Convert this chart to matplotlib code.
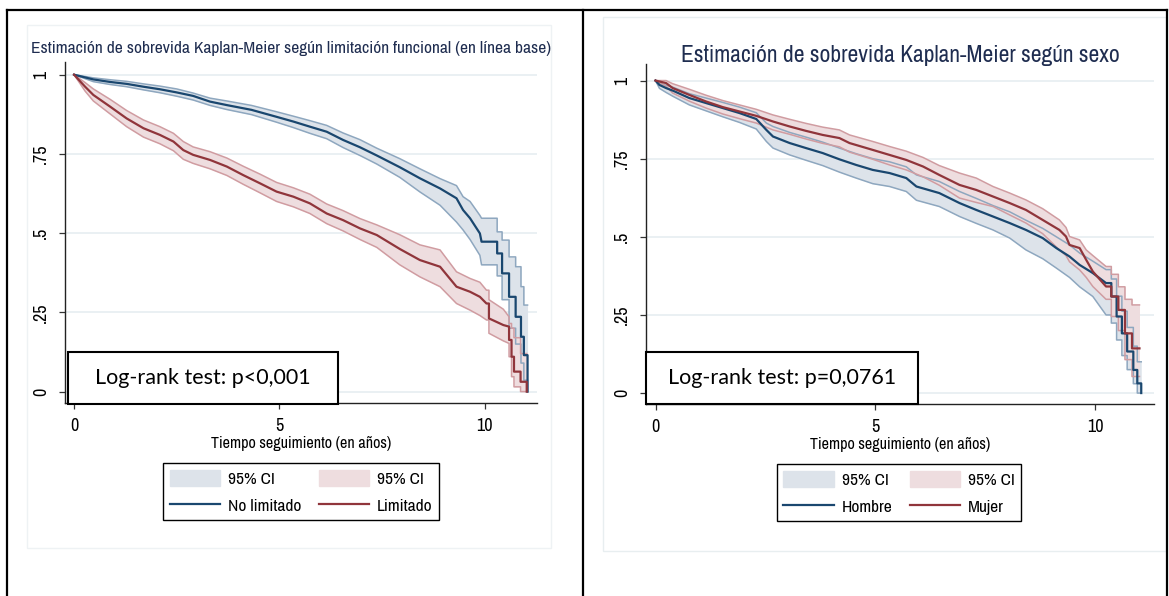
import numpy as np
import matplotlib.pyplot as plt
from matplotlib.patches import Rectangle, Patch
from matplotlib.lines import Line2D

W, H = 1169, 596

# Left panel: survival by functional limitation (No limitado / Limitado)
t_nl = [0, .47, .88, 1.28, 1.69, 2.09, 2.50, 2.90, 3.31, 3.72, 4.32, 4.93, 5.34, 5.74, 6.15, 6.55,
        6.96, 7.37, 7.93, 8.42, 8.91, 9.31, 9.47, 9.64, 9.88, 9.92,
        10.30, 10.30, 10.42, 10.42, 10.59, 10.59, 10.75, 10.75, 10.88, 10.88, 10.95, 10.95, 11.04, 11.04]
s_nl = [1, .985, .977, .971, .962, .954, .944, .933, .915, .904, .889, .867, .852, .836, .820, .794,
        .771, .745, .708, .673, .641, .610, .573, .547, .499, .473,
        .473, .436, .436, .373, .373, .299, .299, .236, .236, .173, .173, .115, .115, 0]
hi_nl = [1, .990, .984, .979, .971, .964, .955, .942, .926, .917, .903, .883, .869, .855, .840, .816,
         .795, .768, .735, .703, .672, .650, .615, .600, .556, .547,
         .547, .504, .504, .478, .478, .425, .425, .394, .394, .331, .331, .273, .273, .273]
lo_nl = [1, .978, .969, .962, .952, .943, .932, .920, .903, .890, .874, .850, .833, .815, .798, .770,
         .745, .718, .676, .630, .588, .535, .510, .480, .430, .400,
         .400, .365, .365, .290, .290, .200, .200, .150, .150, .090, .090, .036, .036, 0]

t_lim = [0, .27, .47, .88, 1.28, 1.69, 2.09, 2.42, 2.66, 2.90, 3.31, 3.72, 4.12, 4.53, 4.93, 5.34,
         5.74, 6.15, 6.55, 6.96, 7.37, 7.93, 8.42, 8.91, 9.31, 9.64, 9.88, 10.04,
         10.10, 10.10, 10.45, 10.59, 10.59, 10.65, 10.65, 10.71, 10.71, 10.87, 10.87, 11.02, 11.02]
s_lim = [1, .962, .936, .899, .862, .831, .810, .789, .762, .747, .731, .710, .683, .657, .631, .615,
         .594, .562, .541, .515, .494, .450, .415, .394, .331, .315, .299, .278,
         .278, .231, .210, .205, .163, .163, .110, .110, .063, .063, .031, .031, 0]
hi_lim = [1, .975, .955, .922, .887, .857, .836, .815, .789, .772, .757, .737, .711, .686, .660, .643,
          .623, .592, .571, .546, .526, .495, .463, .447, .378, .357, .345, .320,
          .320, .290, .260, .236, .215, .215, .200, .200, .170, .170, .120, .120, .120]
lo_lim = [1, .948, .917, .876, .836, .803, .782, .760, .733, .720, .703, .682, .654, .627, .600, .583,
          .562, .530, .507, .480, .455, .400, .362, .331, .278, .257, .240, .226,
          .226, .184, .160, .152, .110, .110, .047, .047, .015, .015, 0, 0, 0]

# Right panel: survival by sex (Hombre / Mujer)
t_hom = [0, .09, .24, .39, .77, 1.15, 1.53, 1.91, 2.29, 2.52, 2.67, 3.05, 3.42, 3.80, 4.18, 4.56,
         4.94, 5.32, 5.70, 5.93, 6.45, 6.91, 7.29, 7.67, 8.05, 8.42, 8.80, 9.11, 9.41, 9.64,
         9.94, 10.24, 10.36, 10.36, 10.48, 10.48, 10.60, 10.60, 10.72, 10.72, 10.86, 10.86,
         10.95, 10.95, 11.04, 11.04]
s_hom = [1, .986, .976, .968, .944, .928, .912, .896, .877, .842, .821, .800, .784, .768, .748, .730,
         .714, .704, .688, .661, .640, .608, .586, .565, .544, .522, .496, .464, .437, .410,
         .384, .352, .352, .309, .309, .245, .245, .191, .191, .133, .133, .074,
         .074, .031, .031, 0]
hi_hom = [1, .992, .985, .979, .958, .944, .930, .915, .897, .864, .853, .834, .819, .803, .784, .766,
          .750, .740, .724, .698, .677, .645, .623, .600, .580, .553, .527, .500, .474, .448,
          .422, .395, .395, .365, .365, .310, .310, .262, .262, .210, .210, .150,
          .150, .100, .100, .100]
lo_hom = [1, .975, .962, .950, .922, .903, .884, .866, .845, .805, .784, .762, .745, .728, .707, .688,
          .670, .661, .645, .617, .597, .565, .543, .522, .496, .458, .430, .400, .370, .340,
          .309, .250, .250, .224, .224, .170, .170, .120, .120, .075, .075, .030,
          .030, 0, 0, 0]

t_muj = [0, .24, .39, .77, 1.15, 1.53, 1.91, 2.29, 2.67, 3.05, 3.42, 3.80, 4.18, 4.41, 4.94, 5.32,
         5.70, 6.08, 6.45, 6.91, 7.29, 7.67, 8.05, 8.42, 8.80, 9.18, 9.33, 9.41, 9.64, 9.79,
         9.94, 10.24, 10.36, 10.36, 10.52, 10.52, 10.67, 10.67, 10.83, 10.83, 11.0]
s_muj = [1, .992, .976, .954, .933, .915, .901, .887, .869, .853, .839, .826, .816, .800, .778, .762,
         .746, .725, .698, .666, .650, .629, .608, .586, .554, .522, .501, .474, .464, .426,
         .389, .341, .341, .309, .309, .266, .266, .191, .191, .143, .143]
hi_muj = [1, 1.0, .990, .972, .953, .936, .922, .908, .890, .876, .863, .851, .842, .826, .805, .789,
          .774, .754, .728, .704, .688, .661, .640, .618, .590, .554, .530, .501, .490, .458,
          .440, .405, .405, .380, .380, .340, .340, .300, .300, .282, .282]
lo_muj = [1, .982, .960, .934, .912, .893, .878, .864, .842, .828, .813, .799, .788, .771, .748, .730,
          .714, .692, .665, .624, .610, .597, .570, .544, .510, .458, .440, .420, .394, .370,
          .341, .300, .300, .245, .245, .200, .200, .107, .107, .053, .053]

yticks = [0, 0.25, 0.5, 0.75, 1]
yticklabels = ['0', '.25', '.5', '.75', '1']
xticks = [0, 5, 10]

NAVY = '#1a476f'
MAROON = '#90353b'
NAVY_FILL = '#dde3ea'
NAVY_EDGE = '#8ea7bf'
MAR_FILL = '#eedddf'
MAR_EDGE = '#d09ca1'
GRID = '#e8eff2'
TITLE_C = '#1f2d50'

plt.rcParams['font.family'] = ['Archivo Narrow', 'Roboto Condensed', 'DejaVu Sans']


def fx(px):
    return px / W


def fy(py):
    return 1 - py / H


fig = plt.figure(figsize=(W / 100, H / 100), dpi=100)
renderer = fig.canvas.get_renderer()


def fit_width(txt, width_px):
    # scale a text so that it spans width_px pixels
    w = txt.get_window_extent(renderer).width
    txt.set_fontsize(txt.get_fontsize() * width_px / w)


def km(ax, t, s, lo, hi, color, fill, edge):
    ax.fill_between(t, lo, hi, color=fill, lw=0, zorder=2)
    ax.plot(t, lo, color=edge, lw=1.1, zorder=3)
    ax.plot(t, hi, color=edge, lw=1.1, zorder=3)
    ax.plot(t, s, color=color, lw=1.6, zorder=4)


def style(ax, xlim, ylim):
    ax.set_xlim(*xlim)
    ax.set_ylim(*ylim)
    for sp in ['top', 'right']:
        ax.spines[sp].set_visible(False)
    for sp in ['left', 'bottom']:
        ax.spines[sp].set_color('#222222')
        ax.spines[sp].set_linewidth(1.0)
    ax.set_yticks(yticks)
    ax.set_yticklabels(yticklabels, rotation=90, va='center')
    ax.set_xticks(xticks)
    ax.tick_params(length=4.5, width=0.9, color='#333333', labelsize=13)
    ax.tick_params(axis='y', pad=7)
    ax.tick_params(axis='x', pad=6)
    ax.grid(axis='y', color=GRID, lw=1.3)
    ax.set_axisbelow(True)
    xl = ax.set_xlabel('Tiempo seguimiento (en años)', fontsize=12, labelpad=2)
    fit_width(xl, 180)


# faint graph region outlines
fig.add_artist(Rectangle((fx(27), fy(548)), (551 - 27) / W, (548 - 25) / H,
                         transform=fig.transFigure, fill=False, ec='#eef2f4', lw=1))
fig.add_artist(Rectangle((fx(603), fy(551)), (1166 - 603) / W, (551 - 17) / H,
                         transform=fig.transFigure, fill=False, ec='#e8eef0', lw=1))

# left panel
ax1 = fig.add_axes([fx(65), fy(403), (537 - 65) / W, (403 - 62) / H])
km(ax1, t_nl, s_nl, lo_nl, hi_nl, NAVY, NAVY_FILL, NAVY_EDGE)
km(ax1, t_lim, s_lim, lo_lim, hi_lim, MAROON, MAR_FILL, MAR_EDGE)
style(ax1, (-0.22, 11.27), (-0.036, 1.040))
t1 = fig.text(fx(291), fy(48), 'Estimación de sobrevida Kaplan-Meier según limitación funcional (en línea base)',
              ha='center', va='center', fontsize=12, color=TITLE_C)
fit_width(t1, 516)

# right panel
ax2 = fig.add_axes([fx(646), fy(404), (1154 - 646) / W, (404 - 64) / H])
km(ax2, t_hom, s_hom, lo_hom, hi_hom, NAVY, NAVY_FILL, NAVY_EDGE)
km(ax2, t_muj, s_muj, lo_muj, hi_muj, MAROON, MAR_FILL, MAR_EDGE)
style(ax2, (-0.216, 11.33), (-0.035, 1.053))
t2 = fig.text(fx(900), fy(56), 'Estimación de sobrevida Kaplan-Meier según sexo',
              ha='center', va='center', fontsize=16, color=TITLE_C)
fit_width(t2, 440)


def legend(ax, cx, top, lab1, lab2):
    handles = [Patch(facecolor=NAVY_FILL, edgecolor=NAVY_FILL),
               Line2D([], [], color=NAVY, lw=1.6),
               Patch(facecolor=MAR_FILL, edgecolor=MAR_FILL),
               Line2D([], [], color=MAROON, lw=1.6)]
    labels = ['95% CI', lab1, '95% CI', lab2]
    leg = ax.legend(handles, labels, ncol=2, loc='upper center',
                    bbox_to_anchor=(fx(cx), fy(top)), bbox_transform=fig.transFigure,
                    fontsize=12.5, frameon=True, fancybox=False, edgecolor='black',
                    framealpha=1, handlelength=2.9, handleheight=1.05, handletextpad=0.45,
                    columnspacing=1.0, labelspacing=0.58, borderpad=0.38, borderaxespad=0)
    leg.get_frame().set_linewidth(1.0)


legend(ax1, 301, 463, 'No limitado', 'Limitado')
legend(ax2, 899, 464, 'Hombre', 'Mujer')


def logrank(x0, x1, txt):
    fig.add_artist(Rectangle((fx(x0), fy(404)), (x1 - x0) / W, (404 - 352) / H,
                             transform=fig.transFigure, fc='white', ec='black', lw=1.5, zorder=5))
    fig.text(fx((x0 + x1) / 2), fy(378), txt, ha='center', va='center', fontsize=15.5,
             family=['Lato', 'DejaVu Sans'], color='black', zorder=6)


logrank(68, 338, 'Log-rank test: p<0,001')
logrank(646, 918, 'Log-rank test: p=0,0761')

# outer table borders
for xs, ys in [([7, 7], [10, 596]), ([583, 583], [10, 596]), ([1167, 1167], [10, 596]),
               ([7, 1167], [10, 10])]:
    fig.add_artist(Line2D([fx(v) for v in xs], [fy(v) for v in ys], transform=fig.transFigure,
                          color='black', lw=1.6, zorder=7))

fig.savefig('out.png', dpi=100, facecolor='white')
